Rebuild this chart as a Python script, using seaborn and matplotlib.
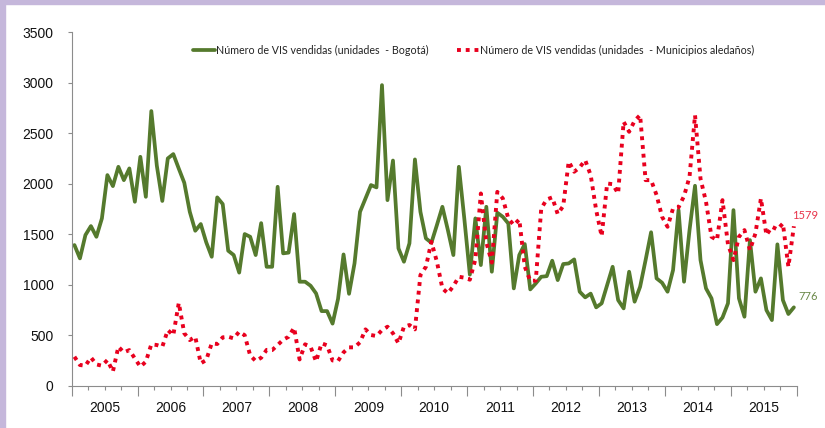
import numpy as np
import pandas as pd
import matplotlib
matplotlib.use('Agg')
import matplotlib.pyplot as plt
import seaborn as sns
from matplotlib.patches import Rectangle
from matplotlib.ticker import FixedLocator, FixedFormatter, NullFormatter

# datos mensuales, enero 2005 - diciembre 2015
years = list(range(2005, 2016))

bogota = [
    1393, 1261, 1492, 1581, 1475, 1657, 2086, 1977, 2168, 2036, 2152, 1822,  # 2005
    2267, 1871, 2720, 2180, 1830, 2251, 2294, 2150, 2010, 1723, 1535, 1601,  # 2006
    1420, 1277, 1865, 1799, 1337, 1294, 1120, 1502, 1475, 1294, 1610, 1178,  # 2007
    1178, 1970, 1311, 1318, 1700, 1030, 1030, 990, 914, 739, 739, 615,       # 2008
    860, 1300, 910, 1212, 1722, 1855, 1987, 1964, 2977, 1838, 2230, 1360,    # 2009
    1228, 1410, 2241, 1722, 1459, 1416, 1591, 1772, 1541, 1294, 2168, 1650,  # 2010
    1100, 1657, 1195, 1772, 1129, 1713, 1673, 1607, 964, 1294, 1403, 954,    # 2011
    1013, 1079, 1085, 1238, 1046, 1205, 1211, 1251, 931, 875, 912, 776,      # 2012
    816, 997, 1178, 848, 766, 1129, 832, 980, 1244, 1520, 1063, 1020,        # 2013
    931, 1145, 1739, 1030, 1541, 1980, 1244, 964, 865, 610, 675, 816,        # 2014
    1739, 865, 683, 1442, 931, 1063, 749, 650, 1400, 848, 710, 776,          # 2015
]

municipios = [
    287, 205, 198, 280, 211, 198, 254, 140, 386, 330, 353, 271,              # 2005
    188, 238, 410, 403, 386, 551, 500, 820, 519, 452, 485, 222,              # 2006
    254, 420, 413, 479, 485, 469, 535, 500, 300, 245, 277, 355,              # 2007
    353, 403, 455, 485, 575, 260, 410, 385, 240, 420, 400, 250,              # 2008
    245, 330, 380, 380, 430, 558, 502, 492, 551, 584, 519, 420,              # 2009
    584, 601, 558, 1096, 1178, 1426, 1228, 964, 915, 987, 1079, 1070,        # 2010
    1050, 1250, 1904, 1420, 1220, 1920, 1855, 1657, 1591, 1647, 1178, 1040,  # 2011
    1040, 1756, 1845, 1865, 1700, 1780, 2220, 2119, 2162, 2234, 2086, 1739,  # 2012
    1480, 2003, 1996, 1904, 2614, 2515, 2624, 2680, 2036, 2036, 1888, 1673,  # 2013
    1574, 1756, 1766, 1878, 2069, 2680, 2050, 1822, 1475, 1442, 1838, 1400,  # 2014
    1244, 1475, 1541, 1343, 1508, 1855, 1492, 1574, 1548, 1607, 1178, 1579,  # 2015
]

lbl_bog = 'Número de VIS vendidas (unidades  - Bogotá)'
lbl_mun = 'Número de VIS vendidas (unidades  - Municipios aledaños)'

verde = '#557A2D'
rojo = '#E8001E'

# posicion de cada mes en el centro de su intervalo
x = 2005 + (np.arange(len(bogota)) + 0.5) / 12
df = pd.DataFrame({'x': x, 'bog': bogota, 'mun': municipios})

sns.set_theme(style='white')
plt.rcParams['font.family'] = ['Liberation Sans', 'DejaVu Sans']

fig = plt.figure(figsize=(8.25, 4.28), dpi=100)
ax = fig.add_axes([0.0869, 0.0988, 0.8787, 0.8257])

sns.lineplot(data=df, x='x', y='bog', ax=ax, color=verde, linewidth=2.7,
             label=lbl_bog)
sns.lineplot(data=df, x='x', y='mun', ax=ax, color=rojo, linewidth=2.8,
             linestyle=(0, (1, 1.25)), label=lbl_mun)

ax.set_xlim(2005, 2016)
ax.set_ylim(0, 3500)
ax.set_yticks(range(0, 3501, 500))
ax.set_xlabel('')
ax.set_ylabel('')

# ticks largos en los limites de cada año, cortos por trimestre
ax.xaxis.set_major_locator(FixedLocator(list(range(2005, 2017))))
ax.xaxis.set_major_formatter(NullFormatter())
quarters = [y + q / 4 for y in years for q in (1, 2, 3)]
qlabels = [str(y) if q == 2 else '' for y in years for q in (1, 2, 3)]
ax.xaxis.set_minor_locator(FixedLocator(quarters))
ax.xaxis.set_minor_formatter(FixedFormatter(qlabels))

gris = '#8C8C8C'
ax.tick_params(axis='x', which='major', length=7.5, width=0.8, color=gris, direction='out', bottom=True)
ax.tick_params(axis='x', which='minor', length=3, width=0.8, color=gris, direction='out', bottom=True,
               pad=8, labelsize=10, labelcolor='#111111')
ax.tick_params(axis='y', length=3, width=0.8, color=gris, direction='out', left=True,
               pad=10, labelsize=10, labelcolor='#111111')

for s in ['top', 'right']:
    ax.spines[s].set_visible(False)
for s in ['left', 'bottom']:
    ax.spines[s].set_color(gris)
    ax.spines[s].set_linewidth(0.8)

leg = ax.legend(loc='center', bbox_to_anchor=(0.574, 0.882), bbox_transform=fig.transFigure,
                ncol=2, frameon=False, handlelength=2.1, handletextpad=0.1,
                columnspacing=2.6, prop={'family': 'Lato', 'size': 7.7})
for t in leg.get_texts():
    t.set_color('#222222')

# etiquetas del ultimo valor
ax.annotate(f'{municipios[-1]}', (x[-1], municipios[-1]), xytext=(-1, 8),
            textcoords='offset points', ha='left', va='center',
            color='#E8334A', fontsize=8, family='Lato')
ax.annotate(f'{bogota[-1]}', (x[-1], bogota[-1]), xytext=(3, 8),
            textcoords='offset points', ha='left', va='center',
            color='#6A8848', fontsize=8, family='Lato')

# marco lila de la figura
lila = '#C5B7DB'
fig.patches.append(Rectangle((0, 0), 5 / 825, 1, transform=fig.transFigure,
                             color=lila, zorder=0))
fig.patches.append(Rectangle((0, 1 - 4 / 428), 1, 4 / 428, transform=fig.transFigure,
                             color=lila, zorder=0))

fig.savefig('out.png', dpi=100)
